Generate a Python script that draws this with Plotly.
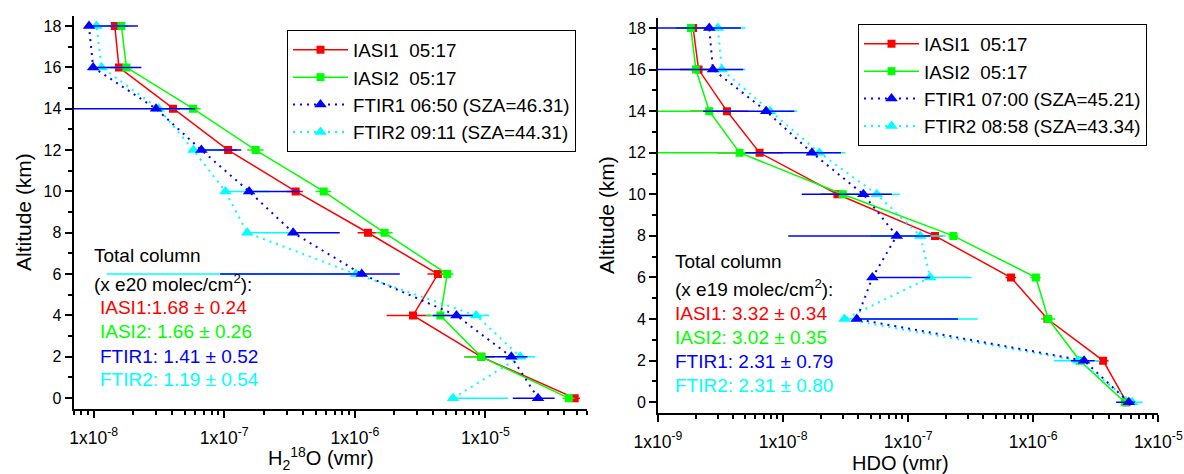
import math
import plotly.graph_objects as go

# ---------------- data ----------------
altitude = [0, 2, 4, 6, 8, 10, 12, 14, 16, 18]

# Left panel: H2-18O (vmr)
h218o_iasi1 = [4.83e-5, 9.3e-6, 2.79e-6, 4.33e-6, 1.26e-6, 3.52e-7, 1.07e-7, 4.05e-8, 1.56e-8, 1.45e-8]
h218o_iasi2 = [4.35e-5, 9.3e-6, 4.52e-6, 5.1e-6, 1.69e-6, 5.78e-7, 1.74e-7, 5.77e-8, 1.78e-8, 1.63e-8]
h218o_ftir1 = [2.53e-5, 1.58e-5, 6.0e-6, 1.13e-6, 3.37e-7, 1.55e-7, 6.68e-8, 3.0e-8, 9.9e-9, 9.2e-9]
h218o_ftir2 = [5.65e-6, 1.85e-5, 8.5e-6, 1.02e-6, 1.5e-7, 1.02e-7, 5.8e-8, 3.15e-8, 1.15e-8, 1.05e-8]

# error-bar ends (None = not drawn on that side)
h218o_iasi1_lo = [4.3e-5, 6.9e-6, 1.75e-6, 3.6e-6, 1.05e-6, 3.0e-7, 9.0e-8, 3.5e-8, 1.35e-8, 1.25e-8]
h218o_iasi1_hi = [5.3e-5, 1.17e-5, 3.83e-6, 5.0e-6, 1.45e-6, 4.0e-7, 1.25e-7, 4.6e-8, 1.75e-8, 1.65e-8]
h218o_iasi2_lo = [3.9e-5, 6.9e-6, 3.5e-6, 4.5e-6, 1.45e-6, 5.0e-7, 1.5e-7, 5.0e-8, 1.55e-8, 1.45e-8]
h218o_iasi2_hi = [4.8e-5, 1.17e-5, 5.5e-6, 5.7e-6, 1.95e-6, 6.6e-7, 2.0e-7, 6.6e-8, 2.0e-8, 1.85e-8]
h218o_ftir1_lo = [1.62e-5, 1.0e-5, 3.95e-6, 9.3e-8, None, None, None, 7e-9, None, None]
h218o_ftir1_hi = [3.39e-5, 2.1e-5, 8.0e-6, 2.21e-6, 7.66e-7, 3.79e-7, 1.35e-7, 6.0e-8, 2.32e-8, 2.18e-8]
h218o_ftir2_lo = [None, 1.25e-5, 6.3e-6, 1.26e-8, None, None, None, None, None, None]
h218o_ftir2_hi = [1.49e-5, 2.41e-5, 1.07e-5, None, 3.3e-7, 2.2e-7, 1.0e-7, 5.5e-8, 1.9e-8, 1.8e-8]

# Right panel: HDO (vmr)
hdo_iasi1 = [5.57e-6, 3.62e-6, 1.30e-6, 6.64e-7, 1.64e-7, 2.72e-8, 6.49e-9, 3.56e-9, 2.11e-9, 1.91e-9]
hdo_iasi2 = [5.4e-6, 2.36e-6, 1.32e-6, 1.05e-6, 2.3e-7, 3.0e-8, 4.49e-9, 2.57e-9, 2.01e-9, 1.83e-9]
hdo_ftir1 = [5.81e-6, 2.55e-6, 3.88e-8, 5.18e-8, 8.11e-8, 4.39e-8, 1.70e-8, 7.33e-9, 2.75e-9, 2.57e-9]
hdo_ftir2 = [6.18e-6, 2.29e-6, 3.09e-8, 1.5e-7, 1.25e-7, 5.61e-8, 1.95e-8, 7.89e-9, 3.24e-9, 3.01e-9]

hdo_iasi1_lo = [5.1e-6, 3.2e-6, 1.2e-6, 6.0e-7, 1.4e-7, 2.0e-8, 3.0e-9, 1.8e-9, 1.5e-9, 1.4e-9]
hdo_iasi1_hi = [6.0e-6, 4.0e-6, 1.4e-6, 7.3e-7, 1.9e-7, 3.4e-8, 1.0e-8, 5.3e-9, 2.8e-9, 2.5e-9]
hdo_iasi2_lo = [5.0e-6, 2.1e-6, 1.15e-6, 9.5e-7, 2.1e-7, 2.0e-8, 1.0e-9, 1.0e-9, 1.5e-9, 1.4e-9]
hdo_iasi2_hi = [5.8e-6, 2.6e-6, 1.5e-6, 1.15e-6, 2.5e-7, 4.0e-8, 8.0e-9, 4.2e-9, 2.5e-9, 2.3e-9]
hdo_ftir1_lo = [4.6e-6, 2.0e-6, None, None, 1.1e-8, 1.41e-8, 5.0e-9, 2.3e-9, 1.0e-9, 1.0e-9]
hdo_ftir1_hi = [6.5e-6, 3.1e-6, 2.5e-7, 1.5e-7, 1.51e-7, 7.4e-8, 2.9e-8, 1.23e-8, 4.8e-9, 4.6e-9]
hdo_ftir2_lo = [5.5e-6, 1.46e-6, None, None, 5.0e-8, None, None, None, None, None]
hdo_ftir2_hi = [7.5e-6, 3.41e-6, 3.6e-7, 3.22e-7, 2.0e-7, 8.6e-8, 3.15e-8, 1.3e-8, 5.0e-9, 5.0e-9]

series_names_left = ["IASI1\u00a0\u00a005:17", "IASI2\u00a0\u00a005:17",
                     "FTIR1 06:50 (SZA=46.31)", "FTIR2 09:11 (SZA=44.31)"]
series_names_right = ["IASI1\u00a0\u00a005:17", "IASI2\u00a0\u00a005:17",
                      "FTIR1 07:00 (SZA=45.21)", "FTIR2 08:58 (SZA=43.34)"]

column_left = ["Total column", "(x e20 molec/cm<sup>2</sup>):",
               "IASI1:1.68 ± 0.24", "IASI2: 1.66 ± 0.26",
               "FTIR1: 1.41 ± 0.52", "FTIR2: 1.19 ± 0.54"]
column_right = ["Total column", "(x e19 molec/cm<sup>2</sup>):",
                "IASI1: 3.32 ± 0.34", "IASI2: 3.02 ± 0.35",
                "FTIR1: 2.31 ± 0.79", "FTIR2: 2.31 ± 0.80"]

left_ticks = [1e-8, 1e-7, 1e-6, 1e-5]
left_ticktext = ["1x10<sup>-8</sup>", "1x10<sup>-7</sup>", "1x10<sup>-6</sup>", "1x10<sup>-5</sup>"]
right_ticks = [1e-9, 1e-8, 1e-7, 1e-6, 1e-5]
right_ticktext = ["1x10<sup>-9</sup>", "1x10<sup>-8</sup>", "1x10<sup>-7</sup>",
                  "1x10<sup>-6</sup>", "1x10<sup>-5</sup>"]

# ---------------- styling ----------------
W, H = 1184, 474
FONT = "Liberation Sans, Arial, sans-serif"
RED, GREEN, BLUE, CYAN = "#ff0000", "#00ff00", "#0000ff", "#00ffff"
col_colors = ["black", "black", RED, GREEN, BLUE, CYAN]


def err(vals, lo, hi, color):
    minus = [v - l if l is not None else 0 for v, l in zip(vals, lo)]
    plus = [h - v if h is not None else 0 for v, h in zip(vals, hi)]
    return dict(type="data", symmetric=False, array=plus, arrayminus=minus,
                color=color, thickness=1.5, width=0)


def minor_vals(lo, hi):
    out = []
    for e in range(-10, -3):
        for k in range(2, 10):
            v = k * 10.0 ** e
            if lo * 0.999 <= v <= hi * 1.001:
                out.append(v)
    return out


fig = go.Figure()


def add_panel(xa, ya, legend, names, data, los, his):
    colors = [RED, GREEN, BLUE, CYAN]
    # draw order: IASI1, IASI2, FTIR2, FTIR1 (blue on top)
    for i in [0, 1, 3, 2]:
        iasi = i < 2
        fig.add_trace(go.Scatter(
            x=data[i], y=altitude, xaxis=xa, yaxis=ya, legend=legend,
            name=names[i], legendrank=i + 1, mode="lines+markers",
            line=dict(color=colors[i], width=1.5 if iasi else 2,
                      dash="solid" if iasi else "2px,5px"),
            marker=dict(symbol="square" if iasi else "triangle-up",
                        size=8 if iasi else 11, color=colors[i],
                        line=dict(width=0)),
            error_x=err(data[i], los[i], his[i], colors[i]),
            hoverinfo="skip",
        ))


add_panel("x", "y", "legend", series_names_left,
          [h218o_iasi1, h218o_iasi2, h218o_ftir1, h218o_ftir2],
          [h218o_iasi1_lo, h218o_iasi2_lo, h218o_ftir1_lo, h218o_ftir2_lo],
          [h218o_iasi1_hi, h218o_iasi2_hi, h218o_ftir1_hi, h218o_ftir2_hi])
add_panel("x2", "y2", "legend2", series_names_right,
          [hdo_iasi1, hdo_iasi2, hdo_ftir1, hdo_ftir2],
          [hdo_iasi1_lo, hdo_iasi2_lo, hdo_ftir1_lo, hdo_ftir2_lo],
          [hdo_iasi1_hi, hdo_iasi2_hi, hdo_ftir1_hi, hdo_ftir2_hi])


def px(x):
    return x / W


def py(y):
    return 1 - y / H


xrange_left = (7e-9, 6e-5)
xrange_right = (1e-9, 1e-5)

common_x = dict(type="log", showgrid=False, zeroline=False, showline=True,
                linewidth=2, linecolor="black", ticks="outside", ticklen=7,
                tickwidth=1.5, tickcolor="black", tickmode="array",
                automargin=False, ticklabelstandoff=5,
                tickfont=dict(family=FONT, size=17.5, color="black"))
common_y = dict(range=[-0.5, 18.5], showgrid=False, zeroline=False, showline=True,
                linewidth=2, linecolor="black", ticks="outside", ticklen=7,
                tickwidth=1.5, tickcolor="black", tickmode="array",
                automargin=False,
                tickvals=list(range(0, 19, 2)),
                minor=dict(tickmode="array", tickvals=list(range(1, 19, 2)),
                           ticks="outside", ticklen=4, tickwidth=1.5,
                           tickcolor="black", showgrid=False),
                tickfont=dict(family=FONT, size=16, color="black"))

fig.update_layout(
    width=W, height=H, margin=dict(l=0, r=0, t=0, b=0, autoexpand=False),
    paper_bgcolor="white", plot_bgcolor="white",
    font=dict(family=FONT, color="black"),
    xaxis=dict(common_x, domain=[px(73.5), px(587)], anchor="y",
               range=[math.log10(xrange_left[0]), math.log10(xrange_left[1])],
               tickvals=left_ticks, ticktext=left_ticktext,
               minor=dict(tickmode="array", tickvals=minor_vals(*xrange_left),
                          ticks="outside", ticklen=4, tickwidth=1.5,
                          tickcolor="black", showgrid=False)),
    yaxis=dict(common_y, domain=[py(408.5), py(15.7)], anchor="x"),
    xaxis2=dict(common_x, domain=[px(658), px(1158.3)], anchor="y2",
                range=[math.log10(xrange_right[0]), math.log10(xrange_right[1])],
                tickvals=right_ticks, ticktext=right_ticktext,
                minor=dict(tickmode="array", tickvals=minor_vals(*xrange_right),
                           ticks="outside", ticklen=4, tickwidth=1.5,
                           tickcolor="black", showgrid=False)),
    yaxis2=dict(common_y, domain=[py(412.6), py(17.6)], anchor="x2"),
    legend=dict(x=px(287), y=py(30), xanchor="left", yanchor="top",
                bordercolor="black", borderwidth=1, bgcolor="white",
                font=dict(family=FONT, size=18.8, color="black"),
                itemwidth=55, tracegroupgap=0),
    legend2=dict(x=px(858), y=py(24), xanchor="left", yanchor="top",
                 bordercolor="black", borderwidth=1, bgcolor="white",
                 font=dict(family=FONT, size=18.8, color="black"),
                 itemwidth=55, tracegroupgap=0),
    showlegend=True,
)

annotations = []
# total-column text blocks
left_x = [92, 92, 98, 98, 98, 98]
left_y = [255, 283, 307, 331, 356, 379]
right_x = [673, 673, 673, 673, 673, 673]
right_y = [261.7, 288.3, 313.3, 337.3, 361.7, 385]
for txt, xx, yy, c in zip(column_left, left_x, left_y, col_colors):
    annotations.append(dict(text=txt, x=px(xx), y=py(yy), xref="paper", yref="paper",
                            xanchor="left", yanchor="middle", showarrow=False,
                            font=dict(family=FONT, size=19, color=c)))
for txt, xx, yy, c in zip(column_right, right_x, right_y, col_colors):
    annotations.append(dict(text=txt, x=px(xx), y=py(yy), xref="paper", yref="paper",
                            xanchor="left", yanchor="middle", showarrow=False,
                            font=dict(family=FONT, size=19, color=c)))
# axis titles
annotations += [
    dict(text="H<sub>2</sub><sup>18</sup>O (vmr)", x=px(321), y=py(458), xref="paper",
         yref="paper", xanchor="center", yanchor="middle", showarrow=False,
         font=dict(family=FONT, size=20, color="black")),
    dict(text="HDO (vmr)", x=px(900), y=py(463), xref="paper", yref="paper",
         xanchor="center", yanchor="middle", showarrow=False,
         font=dict(family=FONT, size=20, color="black")),
    dict(text="Altitude (km)", x=px(23), y=py(212), xref="paper", yref="paper",
         xanchor="center", yanchor="middle", showarrow=False, textangle=-90,
         font=dict(family=FONT, size=21, color="black")),
    dict(text="Altitude (km)", x=px(606), y=py(215), xref="paper", yref="paper",
         xanchor="center", yanchor="middle", showarrow=False, textangle=-90,
         font=dict(family=FONT, size=21, color="black")),
]
fig.update_layout(annotations=annotations)

fig.write_html("out.html")
